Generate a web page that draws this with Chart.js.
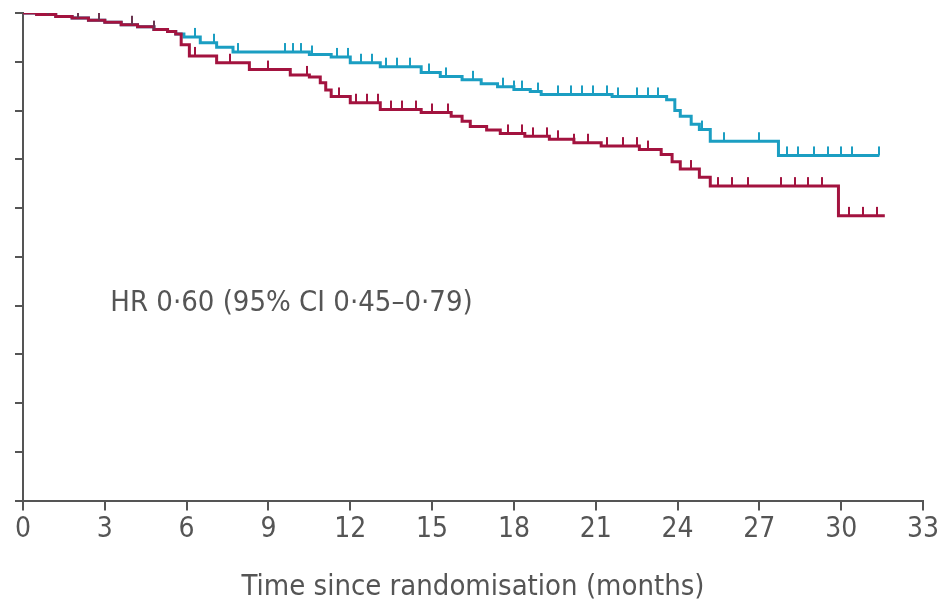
<!DOCTYPE html>
<html>
<head>
<meta charset="utf-8">
<script src="https://cdn.jsdelivr.net/npm/chart.js@4.4.1/dist/chart.umd.min.js"></script>
<style>
  html, body { margin: 0; padding: 0; background: #fff; }
  #wrap { width: 948px; height: 605px; }
</style>
</head>
<body>
<div id="wrap"><canvas id="km"></canvas></div>
<script>
// Kaplan-Meier curves, times in months
const redTimes = [0, 0.5, 1.2, 1.8, 2.4, 3.0, 3.6, 4.2, 4.8, 5.3, 5.6, 5.8, 6.1, 7.1, 8.3, 9.8, 10.5, 10.9, 11.1, 11.3, 12.0, 13.1, 14.6, 15.7, 16.1, 16.4, 17.0, 17.5, 18.4, 19.3, 20.2, 21.2, 22.6, 23.4, 23.8, 24.1, 24.8, 25.2, 29.9, 31.6];
const redSurv  = [1, 0.997, 0.993, 0.990, 0.985, 0.981, 0.976, 0.972, 0.966, 0.962, 0.957, 0.935, 0.912, 0.898, 0.884, 0.873, 0.869, 0.857, 0.842, 0.829, 0.816, 0.802, 0.796, 0.788, 0.778, 0.767, 0.760, 0.753, 0.747, 0.741, 0.734, 0.727, 0.720, 0.710, 0.695, 0.680, 0.663, 0.645, 0.584, 0.584];

const cyanTimes = [0, 0.5, 1.2, 1.8, 2.4, 3.0, 3.6, 4.2, 4.8, 5.3, 5.6, 5.9, 6.5, 7.1, 7.7, 10.5, 11.3, 12.0, 13.1, 14.6, 15.3, 16.1, 16.8, 17.4, 18.0, 18.6, 19.0, 21.6, 23.6, 23.9, 24.1, 24.5, 24.8, 25.2, 27.7, 31.4];
const cyanSurv  = [1, 0.997, 0.993, 0.990, 0.985, 0.981, 0.976, 0.972, 0.966, 0.962, 0.957, 0.951, 0.939, 0.930, 0.920, 0.915, 0.910, 0.898, 0.890, 0.878, 0.870, 0.863, 0.855, 0.849, 0.843, 0.839, 0.833, 0.829, 0.822, 0.800, 0.788, 0.772, 0.761, 0.737, 0.708, 0.708];

// censoring marks
const sharedCensor = [0.9, 2.0, 2.8, 4.0, 4.8];
const cyanCensor = [6.3, 7.0, 7.9, 9.6, 9.9, 10.2, 10.6, 11.5, 11.9, 12.4, 12.8, 13.3, 13.7, 14.2, 14.9, 15.5, 16.5, 17.6, 18.0, 18.3, 18.9, 19.6, 20.1, 20.5, 20.9, 21.4, 21.8, 22.5, 22.9, 23.3, 24.9, 25.7, 27.0, 28.0, 28.4, 29.0, 29.5, 30.0, 30.4, 31.4];
const redCensor = [6.3, 7.6, 9.0, 10.4, 11.6, 12.2, 12.6, 13.0, 13.5, 13.9, 14.4, 15.0, 15.6, 17.8, 18.3, 18.7, 19.2, 19.6, 20.2, 20.7, 21.4, 22.0, 22.5, 22.9, 24.5, 25.5, 26.0, 26.6, 27.8, 28.3, 28.8, 29.3, 30.3, 30.8, 31.3];

const xTicks = [0, 3, 6, 9, 12, 15, 18, 21, 24, 27, 30, 33];
const hrText = 'HR 0·60 (95% CI 0·45–0·79)';

const RED = '#a3133f';
const CYAN = '#1b9ec2';
const AXIS = '#555';
const FONT = '"Liberation Sans Narrow", "DejaVu Sans Condensed", "Liberation Sans", sans-serif';

function toPoints(times, vals) {
    return times.map((t, i) => ({ x: t, y: vals[i] }));
}

// value of the step curve at time t
function survAt(times, vals, t) {
    let v = vals[0];
    for (let i = 0; i < times.length; i++) {
        if (times[i] <= t) v = vals[i];
    }
    return v;
}

function censorPoints(list, times, vals) {
    return list.map(t => ({ x: t, y: survAt(times, vals, t) }));
}

// small vertical tick that sits on top of the line
function tickMark(color) {
    const c = document.createElement('canvas');
    c.width = 2;
    c.height = 20;
    const g = c.getContext('2d');
    g.fillStyle = color;
    g.fillRect(0, 1, 2, 9);
    return c;
}

const hrLabel = {
    id: 'hrLabel',
    afterDatasetsDraw(chart) {
        const { ctx, scales: { x, y } } = chart;
        ctx.save();
        ctx.font = '29px ' + FONT;
        ctx.fillStyle = AXIS;
        ctx.textAlign = 'left';
        ctx.textBaseline = 'middle';
        ctx.fillText(hrText, x.getPixelForValue(3.2), y.getPixelForValue(0.404));
        ctx.restore();
    }
};

new Chart(document.getElementById('km'), {
    type: 'line',
    data: {
        datasets: [
            {
                type: 'scatter',
                data: censorPoints(sharedCensor, redTimes, redSurv),
                pointStyle: tickMark('#6a3550'),
                pointRadius: 5
            },
            {
                type: 'scatter',
                data: censorPoints(redCensor, redTimes, redSurv),
                pointStyle: tickMark(RED),
                pointRadius: 5
            },
            {
                type: 'scatter',
                data: censorPoints(cyanCensor, cyanTimes, cyanSurv),
                pointStyle: tickMark(CYAN),
                pointRadius: 5
            },
            {
                label: 'Red',
                data: toPoints(redTimes, redSurv),
                borderColor: RED,
                borderWidth: 3,
                stepped: 'before',
                pointRadius: 0,
                fill: false
            },
            {
                label: 'Cyan',
                data: toPoints(cyanTimes, cyanSurv),
                borderColor: CYAN,
                borderWidth: 3,
                stepped: 'before',
                pointRadius: 0,
                fill: false
            }
        ]
    },
    options: {
        responsive: true,
        maintainAspectRatio: false,
        animation: false,
        layout: { padding: { left: 15, right: 25, top: 13, bottom: 0 } },
        plugins: {
            legend: { display: false },
            tooltip: { enabled: false }
        },
        scales: {
            x: {
                type: 'linear',
                min: 0,
                max: 33,
                afterBuildTicks: axis => { axis.ticks = xTicks.map(v => ({ value: v })); },
                ticks: { color: AXIS, font: { family: FONT, size: 28 }, padding: 2, maxRotation: 0, autoSkip: false },
                grid: { drawOnChartArea: false, drawTicks: true, tickLength: 10, color: AXIS, lineWidth: 2 },
                border: { color: AXIS, width: 2 },
                title: {
                    display: true,
                    text: 'Time since randomisation (months)',
                    color: AXIS,
                    font: { family: FONT, size: 29 },
                    padding: { top: 22, bottom: 0 }
                }
            },
            y: {
                min: 0,
                max: 1,
                ticks: { stepSize: 0.1, display: false },
                grid: { drawOnChartArea: false, drawTicks: true, tickLength: 8, color: AXIS, lineWidth: 2 },
                border: { color: AXIS, width: 2 }
            }
        }
    },
    plugins: [hrLabel]
});
</script>
</body>
</html>
